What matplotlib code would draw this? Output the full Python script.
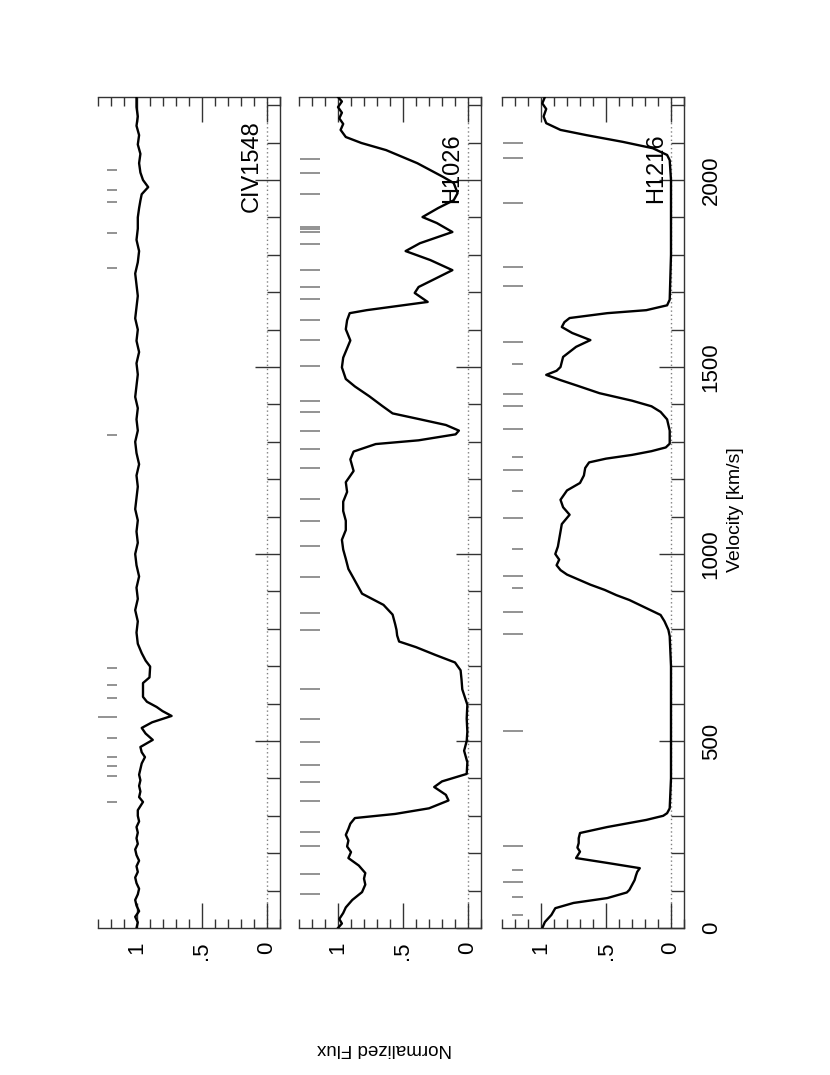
import matplotlib
matplotlib.use("Agg")
import matplotlib.pyplot as plt
from matplotlib.ticker import MultipleLocator, FixedLocator

plt.rcParams['font.family'] = ['Liberation Sans', 'DejaVu Sans']

# ---------------- data ----------------
panel_labels = ["CIV1548", "H1026", "H1216"]

civ_vel = [0, 15, 30, 45, 60, 75, 90, 105, 120, 135, 150, 165, 180, 195, 210, 225, 240, 255,
           270, 285, 300, 315, 337, 350, 365, 380, 395, 410, 425, 440, 457, 470, 484,
           503, 520, 535, 550, 567, 580, 591, 605, 618, 640, 655, 670, 699, 715, 735, 760,
           790, 820, 850, 880, 910, 940, 970, 1000, 1030, 1060, 1090, 1120, 1150, 1180,
           1210, 1240, 1270, 1300, 1330, 1360, 1390, 1420, 1450, 1480, 1510, 1540, 1570,
           1600, 1630, 1660, 1690, 1720, 1750, 1780, 1810, 1840, 1870, 1900, 1925, 1945,
           1962, 1981, 2000, 2020, 2045, 2070, 2095, 2120, 2145, 2170, 2195, 2222]
civ_flux = [1.0, 0.99, 1.01, 0.98, 1.0, 1.01, 0.99, 0.98, 1.0, 1.01, 0.99, 1.0, 0.98, 1.0,
            1.01, 0.99, 1.0, 0.99, 1.0, 0.98, 0.99, 0.99, 0.95, 0.98, 0.97, 0.98, 0.97, 0.98,
            0.97, 0.96, 0.935, 0.96, 0.97, 0.875, 0.93, 0.96, 0.88, 0.73, 0.80, 0.845, 0.92,
            0.95, 0.95, 0.95, 0.90, 0.895, 0.93, 0.96, 0.99, 1.0, 0.99, 1.01, 0.99, 1.0,
            0.98, 1.0, 1.01, 0.99, 1.0, 0.99, 1.01, 1.0, 0.99, 1.0, 0.98, 1.0, 1.01, 0.99,
            1.0, 0.99, 1.01, 1.0, 0.99, 1.0, 0.98, 1.0, 0.99, 1.01, 1.0, 0.99, 1.0, 1.01,
            0.99, 0.98, 1.0, 0.99, 0.99, 0.98, 0.97, 0.96, 0.91, 0.95, 0.97, 0.98, 0.97,
            0.99, 0.98, 1.0, 0.99, 1.0, 1.0]

lyb_vel = [0, 12, 24, 40, 55, 75, 96, 116, 132, 147, 167, 187, 203, 218, 234, 249, 265, 279,
           294, 305, 320, 341, 356, 377, 392, 412, 443, 474, 500, 525, 560, 597, 638, 665,
           689, 710, 730, 751, 766, 782, 797, 812, 838, 864, 894, 935, 960, 987, 1012, 1038,
           1064, 1089, 1115, 1140, 1166, 1192, 1222, 1253, 1274, 1294, 1304, 1320, 1330,
           1345, 1361, 1376, 1396, 1422, 1448, 1468, 1499, 1525, 1550, 1571, 1601, 1625,
           1644, 1652, 1674, 1698, 1714, 1733, 1759, 1786, 1810, 1831, 1861, 1885, 1901,
           1925, 1946, 1965, 1992, 2008, 2045, 2080, 2099, 2115, 2134, 2150, 2165, 2180,
           2195, 2210, 2222]
lyb_flux = [1.0, 0.97, 0.99, 0.96, 0.94, 0.89, 0.815, 0.79, 0.80, 0.79, 0.84, 0.92, 0.90,
            0.93, 0.92, 0.94, 0.92, 0.905, 0.87, 0.56, 0.30, 0.15, 0.17, 0.26, 0.20, 0.01,
            0.005, 0.03, 0.01, 0.005, 0.01, 0.005, 0.044, 0.05, 0.057, 0.10, 0.25, 0.40,
            0.53, 0.545, 0.55, 0.56, 0.58, 0.65, 0.815, 0.88, 0.92, 0.94, 0.96, 0.97, 0.94,
            0.94, 0.96, 0.96, 0.93, 0.94, 0.88, 0.905, 0.88, 0.71, 0.38, 0.095, 0.07, 0.17,
            0.38, 0.58, 0.66, 0.76, 0.87, 0.94, 0.97, 0.96, 0.93, 0.905, 0.94, 0.93, 0.91,
            0.78, 0.31, 0.41, 0.38, 0.27, 0.12, 0.29, 0.48, 0.37, 0.12, 0.24, 0.35, 0.23,
            0.11, 0.08, 0.11, 0.19, 0.39, 0.63, 0.82, 0.94, 0.98, 0.96, 0.99, 0.97, 1.0,
            0.97, 1.0]

lya_vel = [0, 16, 35, 53, 67, 80, 95, 102, 115, 128, 140, 150, 160, 174, 187, 204, 215, 227,
           240, 254, 270, 289, 300, 307, 320, 400, 500, 600, 700, 780, 797, 820, 837, 857,
           877, 890, 904, 918, 930, 945, 957, 970, 985, 1000, 1020, 1040, 1060, 1080, 1105,
           1125, 1145, 1170, 1190, 1210, 1230, 1245, 1255, 1265, 1275, 1285, 1295, 1330,
           1360, 1380, 1395, 1410, 1430, 1450, 1465, 1479, 1490, 1500, 1527, 1554, 1572,
           1591, 1607, 1620, 1631, 1644, 1652, 1665, 1680, 1800, 2000, 2053, 2067, 2085,
           2102, 2120, 2134, 2152, 2170, 2190, 2205, 2222]
lya_flux = [0.99, 0.97, 0.92, 0.89, 0.75, 0.49, 0.34, 0.32, 0.30, 0.28, 0.27, 0.26, 0.24,
            0.49, 0.73, 0.70, 0.72, 0.71, 0.71, 0.70, 0.49, 0.19, 0.06, 0.03, 0.01, 0.0, 0.0,
            0.0, 0.0, 0.01, 0.02, 0.05, 0.08, 0.20, 0.32, 0.42, 0.51, 0.62, 0.70, 0.80, 0.85,
            0.88, 0.86, 0.89, 0.87, 0.86, 0.85, 0.84, 0.78, 0.83, 0.85, 0.80, 0.70, 0.67,
            0.66, 0.63, 0.50, 0.30, 0.15, 0.04, 0.01, 0.01, 0.03, 0.08, 0.15, 0.30, 0.55,
            0.72, 0.85, 0.96, 0.88, 0.85, 0.83, 0.73, 0.62, 0.76, 0.84, 0.82, 0.78, 0.49,
            0.19, 0.03, 0.01, 0.0, 0.0, 0.01, 0.03, 0.14, 0.37, 0.65, 0.85, 0.96, 0.98, 0.96,
            0.99, 0.97]

# component marker velocities
civ_marks = [337, 407, 433, 457, 508, 615, 650, 695, 1318, 1765, 1858, 1942, 1973, 2027]
civ_long_marks = [565]
lyb_marks = [92, 145, 218, 257, 339, 390, 437, 497, 559, 638, 797, 841, 938, 1022, 1089,
             1146, 1230, 1281, 1330, 1381, 1410, 1503, 1571, 1626, 1682, 1715, 1759, 1829,
             1862, 1869, 1875, 1963, 2020, 2056]
lya_marks = [123, 220, 528, 787, 846, 941, 1097, 1224, 1333, 1396, 1429, 1568, 1717, 1767,
             1939, 2059, 2099]
lya_short_marks = [34, 83, 155, 910, 1013, 1168, 1260, 1508]

vels = [civ_vel, lyb_vel, lya_vel]
fluxes = [civ_flux, lyb_flux, lya_flux]
marks = [civ_marks, lyb_marks, lya_marks]

flux_ticks = [0, 0.5, 1]
flux_ticklabels = ["0", ".5", "1"]
vel_ticks = [0, 500, 1000, 1500, 2000]

# ---------------- layout ----------------
W, H = 830, 1075
fig = plt.figure(figsize=(W / 100, H / 100), dpi=100)
lefts = [97.5, 299, 502]
pw = 182
top_px, bot_px = 97, 928
label_pos = [(0.03, 2160), (0.04, 2126), (0.03, 2126)]
mark_span = [(1.15, 1.23), (1.14, 1.29), (1.14, 1.29)]
gray = "#808080"

axes = []
for i in range(3):
    ax = fig.add_axes([lefts[i] / W, 1 - bot_px / H, pw / W, (bot_px - top_px) / H])
    axes.append(ax)
    ax.set_xlim(1.3, -0.1)
    ax.set_ylim(0, 2222)
    ax.axvline(0, ls=(0, (1, 2)), color=gray, lw=1.0, zorder=1)
    ax.plot(fluxes[i], vels[i], color="black", lw=1.7, zorder=3)
    ax.hlines(marks[i], mark_span[i][0], mark_span[i][1], color=gray, lw=1.2, zorder=2)
    if i == 0:
        ax.hlines(civ_long_marks, 1.15, 1.30, color=gray, lw=1.2, zorder=2)
    if i == 2:
        ax.hlines(lya_short_marks, 1.14, 1.22, color=gray, lw=1.2, zorder=2)
    ax.text(label_pos[i][0], label_pos[i][1], panel_labels[i], rotation=90,
            ha="right", va="top", fontsize=17, color="black", zorder=4)

    ax.spines["left"].set_visible(False)
    for s in ("top", "bottom", "right"):
        ax.spines[s].set_color("#333333")
        ax.spines[s].set_linewidth(1.0)

    ax.xaxis.set_major_locator(FixedLocator(flux_ticks))
    ax.set_xticklabels(flux_ticklabels)
    ax.xaxis.set_minor_locator(MultipleLocator(0.1))
    ax.tick_params(axis="x", which="major", direction="in", length=18, width=1,
                   top=True, bottom=True, labelbottom=True, labeltop=False,
                   labelrotation=90, labelsize=16, pad=10, color="#333333")
    ax.tick_params(axis="x", which="minor", direction="in", length=6.5, width=1,
                   top=True, bottom=True, color="#333333")

    ax.yaxis.set_major_locator(FixedLocator(vel_ticks))
    ax.yaxis.set_minor_locator(MultipleLocator(100))
    ax.tick_params(axis="y", which="major", direction="in", length=18, width=1,
                   left=False, right=True, labelleft=False, labelright=(i == 2),
                   labelrotation=90, labelsize=16, pad=12, color="#333333")
    ax.tick_params(axis="y", which="minor", direction="in", length=9.4, width=1,
                   left=False, right=True, color="#333333")
    for lab in ax.get_xticklabels():
        lab.set_va("top")
        lab.set_ha("center")
    for lab in ax.get_yticklabels():
        lab.set_va("center")
        lab.set_ha("left")

fig.text(735 / W, 1 - 510 / H, "Velocity [km/s]", rotation=90, ha="center", va="center",
         fontsize=14)
fig.text(384 / W, 1 - 1048 / H, "Normalized Flux", rotation=180, ha="center", va="center",
         fontsize=13.5)

fig.savefig("out.png", dpi=100)
